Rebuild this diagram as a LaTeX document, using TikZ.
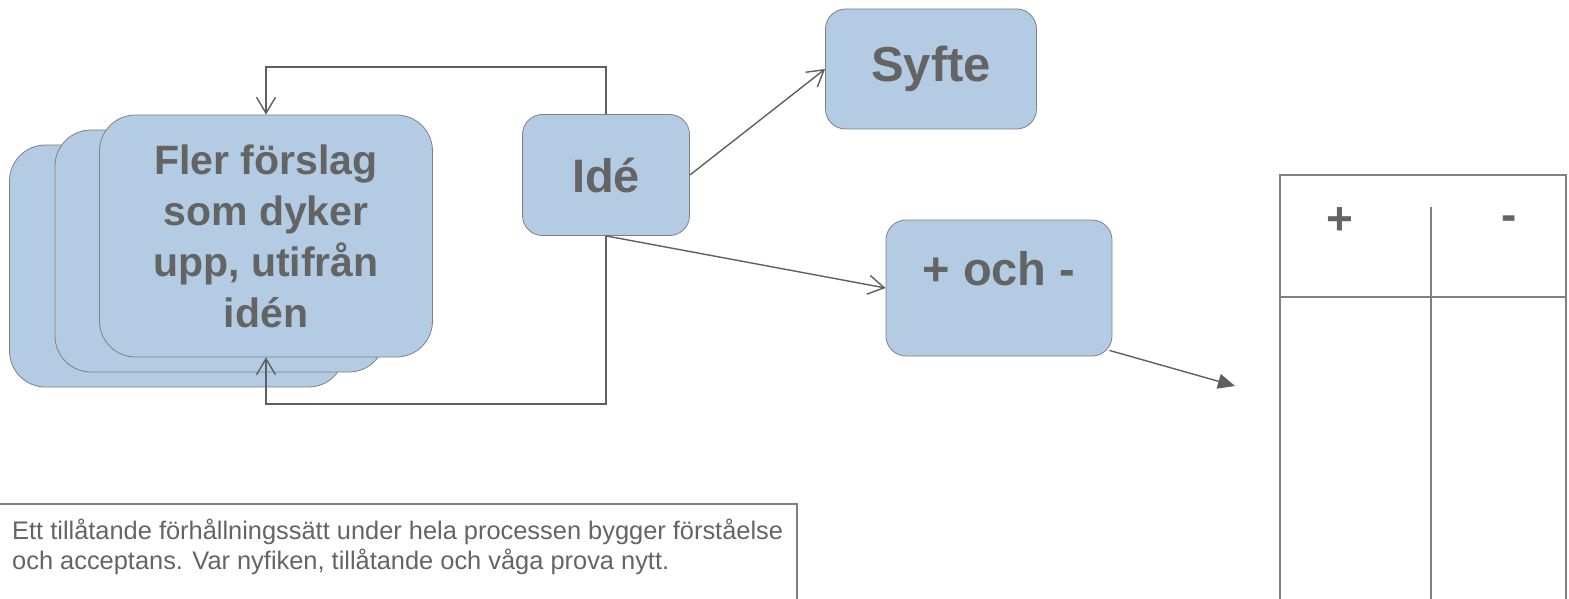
\documentclass[tikz,border=0pt]{standalone}
\usepackage{fontspec}
\setmainfont{Liberation Sans}
\usepackage{xcolor}
\usetikzlibrary{arrows.meta}
\definecolor{boxblue}{RGB}{179,204,228}
\definecolor{boxline}{RGB}{128,128,128}
\definecolor{txtgray}{RGB}{100,100,100}
\definecolor{linegray}{RGB}{95,95,95}
\tikzset{
	card/.style={
			draw=boxline, fill=boxblue, line width=0.8pt,
			rounded corners=#1, text=txtgray, align=center, inner sep=3pt
		},
	card/.default=20pt,
	link/.style={
			draw=linegray, line width=1.4pt,
			-{Straight Barb[length=16pt,width=19pt]}
		},
	tabline/.style={draw=boxline, line width=1.4pt},
	sign/.style={text=txtgray, font=\fontsize{46}{50}\selectfont\bfseries, inner sep=0pt}
}

\begin{document}
\begin{tikzpicture}[x=1pt,y=-1pt]
		\useasboundingbox (0,0) rectangle (1569,599);
		% Draw the stack of proposals
		\node[card=36pt, minimum width=335pt, minimum height=242pt] (back) at (177,266) {};
		\node[card=36pt, minimum width=330pt, minimum height=242pt] (mid) at (220,251) {};
		\node[card=36pt, minimum width=333pt, minimum height=242pt,
			font=\fontsize{41}{51}\selectfont\bfseries] (front) at (266,236)
		{Fler förslag\\som dyker\\upp, utifrån\\idén};
		% Draw the idea and its targets
		\node[card, minimum width=167pt, minimum height=121pt,
			font=\fontsize{47}{56}\selectfont\bfseries] (ide) at (606,175) {Idé};
		\node[card, minimum width=211pt, minimum height=120pt,
			font=\fontsize{49}{58}\selectfont\bfseries] (syfte) at (931,69) {Syfte};
		\node[card, minimum width=226pt, text height=62pt, text depth=68pt,
			font=\fontsize{47}{56}\selectfont\bfseries] (pm) at (999,288) {+ och -};
		% Draw the loops back to the proposals
		\draw[link] (ide.north) -- ++(0,-47) -| (front.north);
		\draw[link] (ide.south) -- ++(0,168) -| (front.south);
		% Draw the arrows out of the idea
		\draw[link] (ide.east) -- (syfte.west);
		\draw[link] (ide.south) -- (pm.west);
		\coordinate (tabin) at (1235,386);
		\draw[draw=linegray, line width=1.4pt, -{Triangle[length=17pt,width=15pt]}]
		(pm.south east) ++(-3,-6) -- (tabin);
		% Draw the table
		\draw[tabline] (1280,620) -- (1280,175) -- (1566,175) -- (1566,620);
		\draw[tabline] (1280,297) -- (1566,297);
		\draw[tabline] (1431,207) -- (1431,620);
		\node[sign] (plus) at (1340,221) {+};
		\node[sign] (minus) at (1509,223) {-};
		% Draw the note
		\draw[tabline] (-5,504) -- (797,504) -- (797,620);
		\node[text=txtgray, anchor=north west, align=left, inner sep=0pt,
			font=\fontsize{25.4}{29.5}\selectfont] (note) at (12,519)
		{Ett tillåtande förhållningssätt under hela processen bygger förståelse\\och acceptans. Var nyfiken, tillåtande och våga prova nytt.};
	\end{tikzpicture}
\end{document}
